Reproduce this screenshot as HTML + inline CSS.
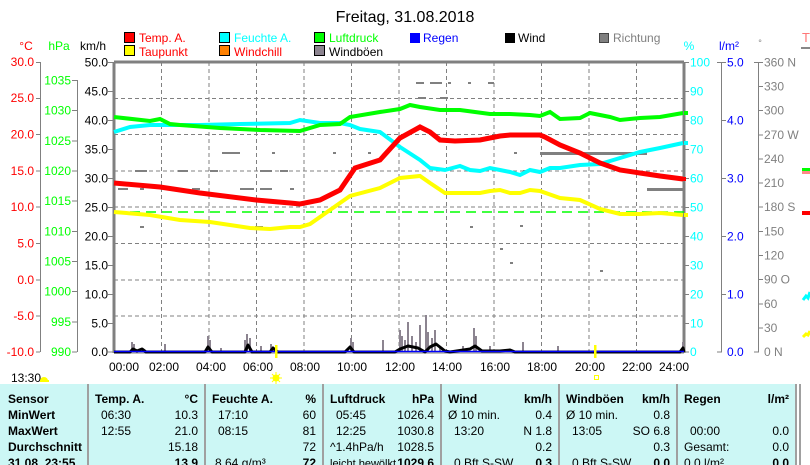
<!DOCTYPE html>
<html><head><meta charset="utf-8"><style>
html,body{margin:0;padding:0;background:#fff;}
svg{display:block;font-family:"Liberation Sans",Arial,sans-serif;}
</style></head><body>
<svg width="810" height="465" viewBox="0 0 810 465" xmlns="http://www.w3.org/2000/svg">
<rect width="810" height="465" fill="#fff"/>
<text x="405" y="22" font-size="16" text-anchor="middle" fill="#000">Freitag, 31.08.2018</text>
<!-- legend -->
<g font-size="12">
<rect x="124.5" y="32.5" width="10" height="10" fill="#f00" stroke="#000"/><text x="139" y="42" fill="#f00">Temp. A.</text>
<rect x="124.5" y="45.5" width="10" height="10" fill="#ff0" stroke="#000"/><text x="139" y="56" fill="#f00">Taupunkt</text>
<rect x="219.5" y="32.5" width="10" height="10" fill="#0ff" stroke="#000"/><text x="234" y="42" fill="#0ff">Feuchte A.</text>
<rect x="219.5" y="45.5" width="10" height="10" fill="#ff8000" stroke="#000"/><text x="234" y="56" fill="#f00">Windchill</text>
<rect x="314.5" y="32.5" width="10" height="10" fill="#0f0" stroke="#000"/><text x="329" y="42" fill="#0f0">Luftdruck</text>
<rect x="314.5" y="45.5" width="10" height="10" fill="#8c8490" stroke="#000"/><text x="329" y="56" fill="#000">Windböen</text>
<rect x="410" y="33" width="10" height="10" fill="#00f"/><text x="423" y="42" fill="#00f">Regen</text>
<rect x="505" y="33" width="10" height="10" fill="#000"/><text x="518" y="42" fill="#000">Wind</text>
<rect x="599.5" y="33.5" width="9" height="9" fill="#808080" stroke="#444"/><text x="613" y="42" fill="#808080">Richtung</text>
</g>
<!-- axis titles -->
<g font-size="12">
<text x="26" y="50" fill="#f00" text-anchor="middle">°C</text>
<text x="59" y="50" fill="#0f0" text-anchor="middle">hPa</text>
<text x="93" y="50" fill="#000" text-anchor="middle">km/h</text>
<text x="689" y="50" fill="#0ff" text-anchor="middle">%</text>
<text x="729" y="50" fill="#00f" text-anchor="middle">l/m²</text>
<text x="760" y="46" fill="#808080" text-anchor="middle" font-size="9">°</text>
<text x="802" y="42" fill="#f77" font-size="13">T</text>
<rect x="801" y="47" width="9" height="2" fill="#888"/>
</g>
<!-- grid -->
<g stroke="#808080" stroke-dasharray="4,3" stroke-width="1">
<line x1="161.5" y1="62" x2="161.5" y2="352"/><line x1="209" y1="62" x2="209" y2="352"/><line x1="256.5" y1="62" x2="256.5" y2="352"/><line x1="304" y1="62" x2="304" y2="352"/><line x1="351.5" y1="62" x2="351.5" y2="352"/><line x1="399" y1="62" x2="399" y2="352"/><line x1="446.5" y1="62" x2="446.5" y2="352"/><line x1="494" y1="62" x2="494" y2="352"/><line x1="541.5" y1="62" x2="541.5" y2="352"/><line x1="589" y1="62" x2="589" y2="352"/><line x1="636.5" y1="62" x2="636.5" y2="352"/>
<line x1="114" y1="98.5" x2="684" y2="98.5"/><line x1="114" y1="134.5" x2="684" y2="134.5"/><line x1="114" y1="171" x2="684" y2="171"/><line x1="114" y1="207" x2="684" y2="207"/><line x1="114" y1="243.5" x2="684" y2="243.5"/><line x1="114" y1="280" x2="684" y2="280"/><line x1="114" y1="316" x2="684" y2="316"/>
</g>
<!-- frame -->
<g stroke="#808080" stroke-width="3" fill="none">
<line x1="114" y1="62" x2="684" y2="62"/><line x1="114" y1="62" x2="114" y2="353"/><line x1="684" y1="62" x2="684" y2="353"/>
</g>
<line x1="114" y1="353" x2="684" y2="353" stroke="#808080" stroke-width="1"/>
<!-- left axes -->
<g stroke="#808080" stroke-width="1">
<line x1="40.5" y1="62" x2="40.5" y2="352"/>
<line x1="77.5" y1="80" x2="77.5" y2="352"/>
</g>
<g font-size="12" fill="#f00" text-anchor="end">
<text x="34" y="66">30.0</text><text x="34" y="102">25.0</text><text x="34" y="138.5">20.0</text><text x="34" y="175">15.0</text><text x="34" y="211">10.0</text><text x="34" y="247.5">5.0</text><text x="34" y="284">0.0</text><text x="34" y="320">-5.0</text><text x="34" y="356">-10.0</text>
</g>
<g stroke="#808080"><line x1="36" y1="62.5" x2="40" y2="62.5"/><line x1="36" y1="98.5" x2="40" y2="98.5"/><line x1="36" y1="134.5" x2="40" y2="134.5"/><line x1="36" y1="171" x2="40" y2="171"/><line x1="36" y1="207" x2="40" y2="207"/><line x1="36" y1="243.5" x2="40" y2="243.5"/><line x1="36" y1="280" x2="40" y2="280"/><line x1="36" y1="316" x2="40" y2="316"/><line x1="36" y1="352" x2="40" y2="352"/>
<line x1="72" y1="80.5" x2="77" y2="80.5"/><line x1="72" y1="110.5" x2="77" y2="110.5"/><line x1="72" y1="141" x2="77" y2="141"/><line x1="72" y1="171" x2="77" y2="171"/><line x1="72" y1="201" x2="77" y2="201"/><line x1="72" y1="231.5" x2="77" y2="231.5"/><line x1="72" y1="261.5" x2="77" y2="261.5"/><line x1="72" y1="291.5" x2="77" y2="291.5"/><line x1="72" y1="322" x2="77" y2="322"/><line x1="72" y1="352" x2="77" y2="352"/>
<line x1="108" y1="62.5" x2="113" y2="62.5"/><line x1="108" y1="91.5" x2="113" y2="91.5"/><line x1="108" y1="120.5" x2="113" y2="120.5"/><line x1="108" y1="149.5" x2="113" y2="149.5"/><line x1="108" y1="178.5" x2="113" y2="178.5"/><line x1="108" y1="207.5" x2="113" y2="207.5"/><line x1="108" y1="236.5" x2="113" y2="236.5"/><line x1="108" y1="265.5" x2="113" y2="265.5"/><line x1="108" y1="294.5" x2="113" y2="294.5"/><line x1="108" y1="323.5" x2="113" y2="323.5"/><line x1="108" y1="352" x2="113" y2="352"/>
</g>
<g font-size="12" fill="#0f0" text-anchor="end">
<text x="71" y="84.5">1035</text><text x="71" y="114.5">1030</text><text x="71" y="145">1025</text><text x="71" y="175">1020</text><text x="71" y="205">1015</text><text x="71" y="235.5">1010</text><text x="71" y="265.5">1005</text><text x="71" y="295.5">1000</text><text x="71" y="326">995</text><text x="71" y="356">990</text>
</g>
<g font-size="12" fill="#000" text-anchor="end">
<text x="108" y="66.5">50.0</text><text x="108" y="95.5">45.0</text><text x="108" y="124.5">40.0</text><text x="108" y="153.5">35.0</text><text x="108" y="182.5">30.0</text><text x="108" y="211.5">25.0</text><text x="108" y="240.5">20.0</text><text x="108" y="269.5">15.0</text><text x="108" y="298.5">10.0</text><text x="108" y="327.5">5.0</text><text x="108" y="356">0.0</text>
</g>
<!-- right axes -->
<g stroke="#808080">
<line x1="721.5" y1="62" x2="721.5" y2="352"/><line x1="758.5" y1="62" x2="758.5" y2="352"/>
<line x1="685" y1="62.5" x2="689" y2="62.5"/><line x1="685" y1="91.5" x2="689" y2="91.5"/><line x1="685" y1="120.5" x2="689" y2="120.5"/><line x1="685" y1="149.5" x2="689" y2="149.5"/><line x1="685" y1="178.5" x2="689" y2="178.5"/><line x1="685" y1="207.5" x2="689" y2="207.5"/><line x1="685" y1="236.5" x2="689" y2="236.5"/><line x1="685" y1="265.5" x2="689" y2="265.5"/><line x1="685" y1="294.5" x2="689" y2="294.5"/><line x1="685" y1="323.5" x2="689" y2="323.5"/><line x1="685" y1="352" x2="689" y2="352"/>
<line x1="717" y1="62.5" x2="726" y2="62.5"/><line x1="721" y1="120.5" x2="726" y2="120.5"/><line x1="721" y1="178.5" x2="726" y2="178.5"/><line x1="721" y1="236.5" x2="726" y2="236.5"/><line x1="721" y1="294.5" x2="726" y2="294.5"/><line x1="717" y1="352" x2="722" y2="352"/>
<line x1="754" y1="62.5" x2="763" y2="62.5"/><line x1="758" y1="86.5" x2="763" y2="86.5"/><line x1="758" y1="110.5" x2="763" y2="110.5"/><line x1="758" y1="135" x2="763" y2="135"/><line x1="758" y1="159" x2="763" y2="159"/><line x1="758" y1="183" x2="763" y2="183"/><line x1="758" y1="207" x2="763" y2="207"/><line x1="758" y1="231.5" x2="763" y2="231.5"/><line x1="758" y1="255.5" x2="763" y2="255.5"/><line x1="758" y1="279.5" x2="763" y2="279.5"/><line x1="758" y1="304" x2="763" y2="304"/><line x1="758" y1="328" x2="763" y2="328"/><line x1="754" y1="352" x2="759" y2="352"/>
</g>
<g font-size="12" fill="#0ff">
<text x="690" y="66.5">100</text><text x="690" y="95.5">90</text><text x="690" y="124.5">80</text><text x="690" y="153.5">70</text><text x="690" y="182.5">60</text><text x="690" y="211.5">50</text><text x="690" y="240.5">40</text><text x="690" y="269.5">30</text><text x="690" y="298.5">20</text><text x="690" y="327.5">10</text><text x="690" y="356">0</text>
</g>
<g font-size="12" fill="#00f">
<text x="727" y="66.5">5.0</text><text x="727" y="124.5">4.0</text><text x="727" y="182.5">3.0</text><text x="727" y="240.5">2.0</text><text x="727" y="298.5">1.0</text><text x="727" y="356">0.0</text>
</g>
<g font-size="12" fill="#808080">
<text x="764" y="66.5">360 N</text><text x="764" y="90.5">330</text><text x="764" y="114.5">300</text><text x="764" y="139">270 W</text><text x="764" y="163">240</text><text x="764" y="187">210</text><text x="764" y="211">180 S</text><text x="764" y="235.5">150</text><text x="764" y="259.5">120</text><text x="764" y="283.5">90  O</text><text x="764" y="308">60</text><text x="764" y="332">30</text><text x="764" y="356">0   N</text>
</g>
<!-- right edge bits -->
<rect x="802" y="168" width="8" height="3" fill="#0f0"/><rect x="802" y="171" width="8" height="3" fill="#f88"/><rect x="802" y="211" width="8" height="4" fill="#f00"/>
<path d="M803,300 L806,296 L808,298 L810,292" stroke="#0ff" stroke-width="3" fill="none"/>
<path d="M803,337 L806,334 L808,335 L810,331" stroke="#ff0" stroke-width="3" fill="none"/>
<!-- direction gray dots -->
<g fill="#808080">
<rect x="222" y="152" width="18" height="2"/><rect x="272" y="152" width="3" height="2"/><rect x="333" y="152" width="3" height="2"/><rect x="368" y="152" width="3" height="2"/>
<rect x="135" y="170" width="12" height="2"/><rect x="178" y="170" width="10" height="2"/><rect x="210" y="170" width="8" height="2"/><rect x="260" y="170" width="12" height="2"/><rect x="280" y="170" width="8" height="2"/>
<rect x="118" y="188" width="10" height="2"/><rect x="140" y="188" width="4" height="2"/><rect x="170" y="188" width="4" height="2"/><rect x="192" y="188" width="8" height="2"/><rect x="240" y="188" width="14" height="2"/><rect x="260" y="188" width="12" height="2"/><rect x="290" y="188" width="4" height="2"/>
<rect x="140" y="226" width="4" height="2"/><rect x="290" y="226" width="10" height="2"/><rect x="255" y="226" width="8" height="2"/>
<rect x="416" y="82" width="8" height="2"/><rect x="430" y="82" width="12" height="2"/><rect x="448" y="82" width="3" height="2"/><rect x="468" y="82" width="3" height="2"/><rect x="488" y="82" width="6" height="2"/>
<rect x="418" y="97" width="8" height="2"/><rect x="440" y="97" width="8" height="2"/>
<rect x="540" y="152" width="107" height="3"/><rect x="514" y="152" width="3" height="2"/><rect x="647" y="188" width="37" height="3"/><rect x="523" y="170" width="8" height="2"/>
<rect x="520" y="225" width="3" height="2"/><rect x="470" y="226" width="3" height="2"/><rect x="500" y="248" width="3" height="2"/><rect x="510" y="262" width="3" height="2"/><rect x="600" y="270" width="3" height="2"/>
</g>
<!-- green dashed -->
<line x1="114" y1="212" x2="684" y2="212" stroke="#0f0" stroke-width="1.5" stroke-dasharray="10,6"/>
<!-- gusts -->
<g stroke="#8c8490" stroke-width="2" fill="none">
<path d="M132,352V342M134,352V344M165,352V344M208,352V336M210,352V340M221,352V348M245,352V340M247,352V334M250,352V338M261,352V346M271,352V344M351,352V338M353,352V342M383,352V340M400,352V330M402,352V336M405,352V340M408,352V322M412,352V336M416,352V342M420,352V325M426,352V315M428,352V332M432,352V338M435,352V330M440,352V346M463,352V346M474,352V328M476,352V336M490,352V346M523,352V342M558,352V346M683,352V342"/>
</g>
<!-- wind -->
<path d="M114,352 L130,352 L133,349 L137,351 L142,349 L146,352 L205,352 L208,347 L212,352 L245,352 L248,345 L252,352 L270,352 L273,348 L278,352 L345,352 L350,347 L354,352 L395,352 L400,349 L408,346 L418,348 L425,352 L430,347 L436,344 L445,351 L450,352 L470,349 L475,346 L482,351 L500,351 L510,350 L515,352 L680,352 L683,348 L684,352" stroke="#000" stroke-width="3" fill="none" stroke-linejoin="round"/>
<line x1="114" y1="351.5" x2="684" y2="351.5" stroke="#00f" stroke-width="1.5"/>
<!-- humidity -->
<polyline fill="none" stroke="#0ff" stroke-width="4" points="114,132 130,127 150,125 200,125 240,124 290,123 300,120 320,123 340,123 350,125 360,129 380,132 400,147 420,160 430,168 445,170 460,166 470,170 480,171 490,168 500,170 510,172 520,175 530,170 540,172 550,168 560,168 580,165 600,164 620,158 640,152 660,148 683,143"/>
<!-- pressure -->
<polyline fill="none" stroke="#0f0" stroke-width="4" points="114,117 150,121 160,119 170,124 180,125 220,128 260,130 300,131 320,125 340,124 350,117 380,112 400,109 410,105 420,107 440,110 460,110 475,112 490,114 510,114 530,115 540,116 550,112 560,119 580,118 590,113 610,117 620,120 640,118 660,117 683,113"/>
<!-- dewpoint -->
<polyline fill="none" stroke="#ff0" stroke-width="4" points="114,212 150,215 180,220 210,222 250,228 270,229 290,227 300,227 310,224 330,210 350,196 380,188 400,178 420,176 430,183 445,193 460,193 480,193 490,191 500,190 510,193 520,193 530,190 540,191 560,198 580,200 600,209 620,214 640,214 660,213 683,215"/>
<!-- temperature -->
<polyline fill="none" stroke="#f00" stroke-width="5" points="114,183 160,187 200,193 256,200 290,203 300,204 320,200 340,190 355,168 380,160 400,138 420,127 430,132 440,140 455,141 480,140 500,136 510,135 540,135 545,137 560,145 580,153 600,163 620,170 640,173 660,176 683,179"/>
<rect x="682" y="177" width="4" height="4" fill="#f00"/><rect x="684" y="111" width="4" height="4" fill="#0f0"/><rect x="684" y="141" width="4" height="4" fill="#0ff"/><rect x="684" y="213" width="4" height="4" fill="#ff0"/>
<!-- x labels -->
<g font-size="12" fill="#000" text-anchor="middle">
<text x="124" y="371">00:00</text><text x="164" y="371">02:00</text><text x="211" y="371">04:00</text><text x="258" y="371">06:00</text><text x="305" y="371">08:00</text><text x="352" y="371">10:00</text><text x="400" y="371">12:00</text><text x="447" y="371">14:00</text><text x="495" y="371">16:00</text><text x="542" y="371">18:00</text><text x="590" y="371">20:00</text><text x="637" y="371">22:00</text><text x="674" y="371">24:00</text>
</g>
<rect x="275" y="345" width="2.5" height="13" fill="#ff0"/><rect x="594" y="345" width="2.5" height="13" fill="#ff0"/>
<circle cx="276" cy="378" r="3.5" fill="#ff0"/><g stroke="#ff0" stroke-width="1"><line x1="270" y1="378" x2="282" y2="378"/><line x1="276" y1="372" x2="276" y2="384"/><line x1="272" y1="374" x2="280" y2="382"/><line x1="280" y1="374" x2="272" y2="382"/></g>
<rect x="594.5" y="375.5" width="4" height="4" fill="none" stroke="#ff0"/>
<text x="11" y="382" font-size="12">13:30</text><path d="M40,381 A4,4 0 0 1 48,381 Z" fill="#ff0"/><rect x="40" y="380" width="9" height="2" fill="#ff0"/>
<!-- table -->
<rect x="0" y="384" width="796" height="81" fill="#ccf7f5"/>
<g stroke="#a0a0a0" stroke-width="2"><line x1="88" y1="384" x2="88" y2="465"/><line x1="205" y1="384" x2="205" y2="465"/><line x1="323" y1="384" x2="323" y2="465"/><line x1="441" y1="384" x2="441" y2="465"/><line x1="559" y1="384" x2="559" y2="465"/><line x1="677" y1="384" x2="677" y2="465"/><line x1="796" y1="384" x2="796" y2="465"/><line x1="800" y1="384" x2="800" y2="465"/></g>
<g font-size="12" fill="#000">
<g font-weight="bold"><text x="8" y="403">Sensor</text><text x="8" y="419">MinWert</text><text x="8" y="435">MaxWert</text><text x="8" y="451">Durchschnitt</text><text x="8" y="467">31.08. 23:55</text></g>
<text x="95" y="403" font-weight="bold">Temp. A.</text><text x="198" y="403" font-weight="bold" text-anchor="end">°C</text>
<text x="101" y="419">06:30</text><text x="198" y="419" text-anchor="end">10.3</text>
<text x="101" y="435">12:55</text><text x="198" y="435" text-anchor="end">21.0</text>
<text x="198" y="451" text-anchor="end">15.18</text><text x="198" y="467" text-anchor="end" font-weight="bold">13.9</text>
<text x="212" y="403" font-weight="bold">Feuchte A.</text><text x="316" y="403" font-weight="bold" text-anchor="end">%</text>
<text x="218" y="419">17:10</text><text x="316" y="419" text-anchor="end">60</text>
<text x="218" y="435">08:15</text><text x="316" y="435" text-anchor="end">81</text>
<text x="316" y="451" text-anchor="end">72</text><text x="215" y="467">8.64 g/m³</text><text x="316" y="467" text-anchor="end" font-weight="bold">72</text>
<text x="330" y="403" font-weight="bold">Luftdruck</text><text x="434" y="403" font-weight="bold" text-anchor="end">hPa</text>
<text x="336" y="419">05:45</text><text x="434" y="419" text-anchor="end">1026.4</text>
<text x="336" y="435">12:25</text><text x="434" y="435" text-anchor="end">1030.8</text>
<text x="330" y="451">^1.4hPa/h</text><text x="434" y="451" text-anchor="end">1028.5</text>
<text x="330" y="467" font-size="11">leicht bewölkt</text><text x="434" y="467" text-anchor="end" font-weight="bold">1029.6</text>
<text x="448" y="403" font-weight="bold">Wind</text><text x="552" y="403" font-weight="bold" text-anchor="end">km/h</text>
<text x="448" y="419">Ø 10 min.</text><text x="552" y="419" text-anchor="end">0.4</text>
<text x="454" y="435">13:20</text><text x="552" y="435" text-anchor="end">N 1.8</text>
<text x="552" y="451" text-anchor="end">0.2</text><text x="454" y="467">0 Bft S-SW</text><text x="552" y="467" text-anchor="end" font-weight="bold">0.3</text>
<text x="566" y="403" font-weight="bold">Windböen</text><text x="670" y="403" font-weight="bold" text-anchor="end">km/h</text>
<text x="566" y="419">Ø 10 min.</text><text x="670" y="419" text-anchor="end">0.8</text>
<text x="572" y="435">13:05</text><text x="670" y="435" text-anchor="end">SO 6.8</text>
<text x="670" y="451" text-anchor="end">0.3</text><text x="572" y="467">0 Bft S-SW</text><text x="670" y="467" text-anchor="end" font-weight="bold">0.0</text>
<text x="684" y="403" font-weight="bold">Regen</text><text x="789" y="403" font-weight="bold" text-anchor="end">l/m²</text>
<text x="690" y="435">00:00</text><text x="789" y="435" text-anchor="end">0.0</text>
<text x="684" y="451">Gesamt:</text><text x="789" y="451" text-anchor="end">0.0</text>
<text x="684" y="467">0.0 l/m²</text><text x="789" y="467" text-anchor="end" font-weight="bold">0.0</text>
</g>
</svg>
</body></html>
